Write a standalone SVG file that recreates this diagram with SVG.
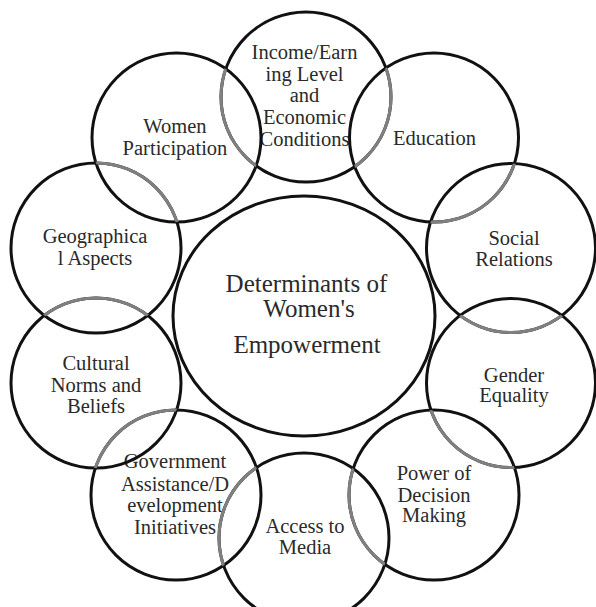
<svg xmlns="http://www.w3.org/2000/svg" width="596" height="607" viewBox="0 0 596 607">
<style>
.c{fill:none;stroke:#111;stroke-width:3}
.g{fill:none;stroke:#808080;stroke-width:3}
text{font-family:'Liberation Serif','DejaVu Serif',serif;fill:#2a2a2a;text-anchor:middle}
.t{font-size:20.5px}
.m{font-size:25px}
</style>
<defs>
<clipPath id="inEdu"><circle cx="434" cy="137.5" r="84.5"/></clipPath>
<clipPath id="inWom"><circle cx="176.5" cy="137.5" r="84.5"/></clipPath>
<clipPath id="inSoc"><circle cx="511" cy="248" r="84.5"/></clipPath>
<clipPath id="inGen"><circle cx="511" cy="383" r="84.5"/></clipPath>
<clipPath id="inPow"><circle cx="434" cy="495" r="85"/></clipPath>
<clipPath id="inAcc"><circle cx="304" cy="538" r="85"/></clipPath>
<clipPath id="inGov"><circle cx="176" cy="495" r="85"/></clipPath>
<clipPath id="inCul"><circle cx="96" cy="383" r="85"/></clipPath>
<clipPath id="inGeo"><circle cx="96" cy="248" r="85"/></clipPath>
</defs>
<rect width="596" height="607" fill="#fff"/>

<g id="center">
<ellipse class="c" cx="304" cy="316" rx="131" ry="120"/>
<text class="m" x="306.5" y="292">Determinants of</text>
<text class="m" x="309" y="317">Women's</text>
<text class="m" x="307" y="353">Empowerment</text>
</g>

<g id="income">
<circle class="c" cx="306" cy="97" r="85"/>
<text class="t" x="304.5" y="59">Income/Earn</text>
<text class="t" x="304.5" y="81">ing Level</text>
<text class="t" x="304.5" y="102">and</text>
<text class="t" x="304.5" y="124">Economic</text>
<text class="t" x="304.5" y="146">Conditions</text>
</g>
<g id="education">
<circle class="c" cx="434" cy="137.5" r="84.5"/>
<text class="t" x="434.5" y="145">Education</text>
</g>
<g id="social">
<circle class="c" cx="511" cy="248" r="84.5"/>
<text class="t" x="514" y="245">Social</text>
<text class="t" x="514" y="266">Relations</text>
</g>
<g id="gender">
<circle class="c" cx="511" cy="383" r="84.5"/>
<text class="t" x="514" y="382">Gender</text>
<text class="t" x="514" y="402">Equality</text>
</g>
<g id="power">
<circle class="c" cx="434" cy="495" r="85"/>
<text class="t" x="434" y="480">Power of</text>
<text class="t" x="434" y="502">Decision</text>
<text class="t" x="434" y="522">Making</text>
</g>
<g id="media">
<circle class="c" cx="304" cy="538" r="85"/>
<text class="t" x="305" y="533">Access to</text>
<text class="t" x="305" y="554">Media</text>
</g>
<g id="government">
<circle class="c" cx="176" cy="495" r="85"/>
<text class="t" x="175" y="468">Government</text>
<text class="t" x="175" y="491">Assistance/D</text>
<text class="t" x="175" y="512">evelopment</text>
<text class="t" x="175" y="534">Initiatives</text>
</g>
<g id="cultural">
<circle class="c" cx="96" cy="383" r="85"/>
<text class="t" x="96" y="370">Cultural</text>
<text class="t" x="96" y="392">Norms and</text>
<text class="t" x="96" y="413">Beliefs</text>
</g>
<g id="geographical">
<circle class="c" cx="96" cy="248" r="85"/>
<text class="t" x="95" y="243">Geographica</text>
<text class="t" x="95" y="265">l Aspects</text>
</g>
<g id="women">
<circle class="c" cx="176.5" cy="137.5" r="84.5"/>
<text class="t" x="175" y="133">Women</text>
<text class="t" x="175" y="155">Participation</text>
</g>

<g id="overlaps">
<circle class="g" cx="306" cy="97" r="85" clip-path="url(#inWom)"/>
<circle class="g" cx="306" cy="97" r="85" clip-path="url(#inEdu)"/>
<circle class="g" cx="434" cy="137.5" r="84.5" clip-path="url(#inSoc)"/>
<circle class="g" cx="511" cy="248" r="84.5" clip-path="url(#inGen)"/>
<circle class="g" cx="511" cy="383" r="84.5" clip-path="url(#inPow)"/>
<circle class="g" cx="434" cy="495" r="85" clip-path="url(#inAcc)"/>
<circle class="g" cx="304" cy="538" r="85" clip-path="url(#inGov)"/>
<circle class="g" cx="176" cy="495" r="85" clip-path="url(#inCul)"/>
<circle class="g" cx="96" cy="383" r="85" clip-path="url(#inGeo)"/>
<circle class="g" cx="96" cy="248" r="85" clip-path="url(#inWom)"/>
</g>
</svg>
